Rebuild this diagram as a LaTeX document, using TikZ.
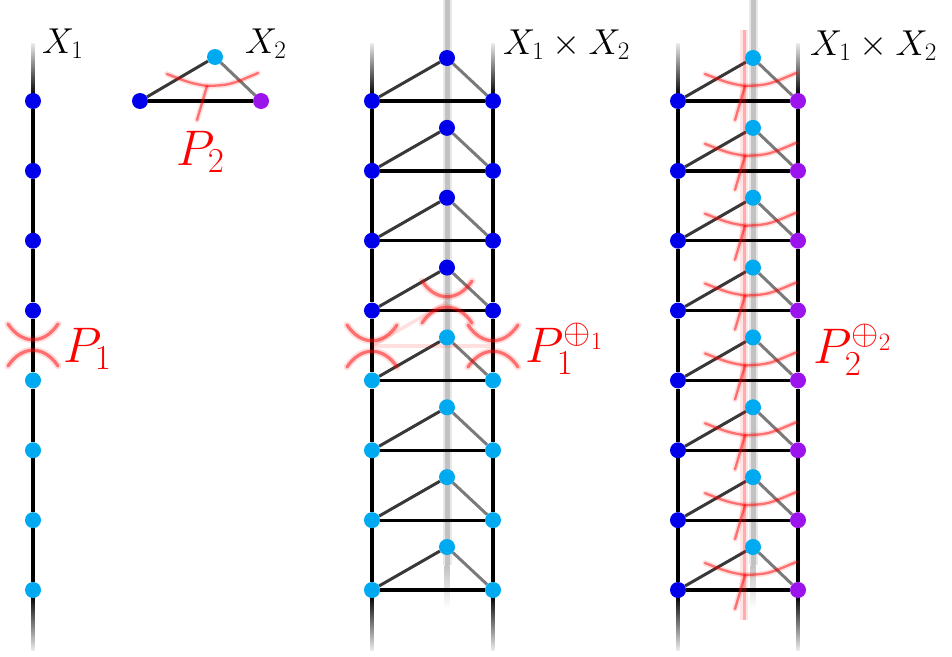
\RequirePackage{fix-cm}
\documentclass[tikz,border=0pt]{standalone}
\definecolor{dotblue}{RGB}{0,0,235}
\definecolor{dotcyan}{RGB}{0,170,240}
\definecolor{dotpurple}{RGB}{155,20,235}
\pgfdeclarelayer{back}
\pgfdeclarelayer{front}
\pgfsetlayers{back,main,front}
\begin{document}
\begin{tikzpicture}[x=1pt,y=-1pt,
  dot/.style={circle,inner sep=0pt,minimum size=16pt,draw=none,fill=#1},
  rail/.style={line width=3.3pt,black},
  spoke/.style={line width=3pt,color=black!#1},
  redline/.style={red,line width=3.2pt,opacity=0.5,line cap=round},
  redglow/.style={red,line width=7pt,opacity=0.13,line cap=round},
  treeline/.style={red,line width=2.3pt,opacity=0.5,line cap=round},
  treeglow/.style={red,line width=5.5pt,opacity=0.13,line cap=round},
  faint/.style={red,line width=3.5pt,opacity=0.12},
  lab/.style={inner sep=0pt,anchor=base west},
  bigx/.style={lab,font=\fontsize{36}{40}\selectfont},
  bigp/.style={lab,text=red,font=\fontsize{50}{56}\selectfont},
  cross/.pic={
    \foreach \s in {1,-1}{
      \draw[redglow] (-25,-21*\s) .. controls (-11,0) and (11,0) .. (25,-21*\s);
      \draw[redline] (-25,-21*\s) .. controls (-11,0) and (11,0) .. (25,-21*\s);
    }
  },
  tree/.pic={
    \foreach \st in {treeglow,treeline}{
      \draw[\st] (27,-27) .. controls (50,-18) .. (67,-15) .. controls (90,-16) .. (118,-28);
      \draw[\st] (67,-15) -- (57,19);
    }
  }
]
\useasboundingbox (0,0) rectangle (952,656);

% ---------- dots (front layer) ----------
\begin{pgfonlayer}{front}
\foreach \i in {1,...,8}{
  \pgfmathsetmacro\r{101+69.857*(\i-1)}
  \pgfmathsetmacro\ap{\r-43}
  \ifnum\i<5 \def\cc{dotblue}\else\def\cc{dotcyan}\fi
  \node[dot=\cc] (a\i) at (33,\r) {};
  \node[dot=\cc] (ml\i) at (372,\r) {};
  \node[dot=\cc] (mt\i) at (447,\ap) {};
  \node[dot=\cc] (mr\i) at (493,\r) {};
  \node[dot=dotblue] (rl\i) at (678,\r) {};
  \node[dot=dotcyan] (rt\i) at (753,\ap) {};
  \node[dot=dotpurple] (rr\i) at (798,\r) {};
}
\node[dot=dotblue] (tl) at (140,101) {};
\node[dot=dotcyan] (tt) at (215,57) {};
\node[dot=dotpurple] (tr) at (261,101) {};
\end{pgfonlayer}

% ---------- background lines ----------
\begin{pgfonlayer}{back}
\foreach \x in {447,753}{
  \fill[black!9] (\x-4.5,0) rectangle (\x+4.5,565);
  \fill[black!24] (\x-2.5,0) rectangle (\x+2.5,565);
  \shade[top color=black!24,bottom color=white] (\x-2.5,565) rectangle (\x+2.5,608);
}
\foreach \x in {33,372,493,678,798}{
  \shade[top color=black!8,bottom color=black] (\x-1.6,43) rectangle (\x+1.6,95);
  \shade[top color=black,bottom color=black!8] (\x-1.6,596) rectangle (\x+1.6,650);
}
\end{pgfonlayer}

% ---------- rails ----------
\foreach \i [evaluate=\i as \j using int(\i+1)] in {1,...,7}{
  \draw[rail] (a\i) -- (a\j);
  \draw[rail] (ml\i) -- (ml\j);
  \draw[rail] (mr\i) -- (mr\j);
  \draw[rail] (rl\i) -- (rl\j);
  \draw[rail] (rr\i) -- (rr\j);
}
% ---------- triangles ----------
\foreach \i in {1,...,8}{
  \draw[spoke=78] (ml\i) -- (mt\i);
  \draw[spoke=52] (mt\i) -- (mr\i);
  \draw[rail] (ml\i) -- (mr\i);
  \draw[spoke=78] (rl\i) -- (rt\i);
  \draw[spoke=52] (rt\i) -- (rr\i);
  \draw[rail] (rl\i) -- (rr\i);
}
\draw[spoke=78] (tl) -- (tt);
\draw[spoke=52] (tt) -- (tr);
\draw[rail] (tl) -- (tr);

% ---------- red structures ----------
\pic at (33,345) {cross};
\coordinate (q1) at (372,346);
\coordinate (q2) at (447,302);
\coordinate (q3) at (493,346);
\draw[faint] (q1) -- (q2);
\draw[faint] (q1) -- (q3);
\pic at (q1) {cross};
\pic at (q2) {cross};
\pic at (q3) {cross};

\pic at (140,101) {tree};
\coordinate (v1) at (744,30);
\coordinate (v2) at (744,620);
\draw[red,line width=8pt,opacity=0.1] (v1) -- (v2);
\draw[red,line width=3pt,opacity=0.25] (v1) -- (v2);
\foreach \i in {1,...,8}{
  \pgfmathsetmacro\r{101+69.857*(\i-1)}
  \pic at (678,\r) {tree};
}

% ---------- labels ----------
\node[bigx] (lx1) at (42,53) {$X_1$};
\node[bigx] (lx2) at (245,53) {$X_2$};
\node[bigx] (lx3) at (503,54) {$X_1\times X_2$};
\node[bigx] (lx4) at (810,55) {$X_1\times X_2$};
\node[bigp] (lp1) at (63,362) {$P_1$};
\node[bigp] (lp2) at (176,165) {$P_2$};
\node[bigp] (lp3) at (525,362) {$P_1^{\oplus_1}$};
\node[bigp] (lp4) at (813,363) {$P_2^{\oplus_2}$};
\end{tikzpicture}
\end{document}
